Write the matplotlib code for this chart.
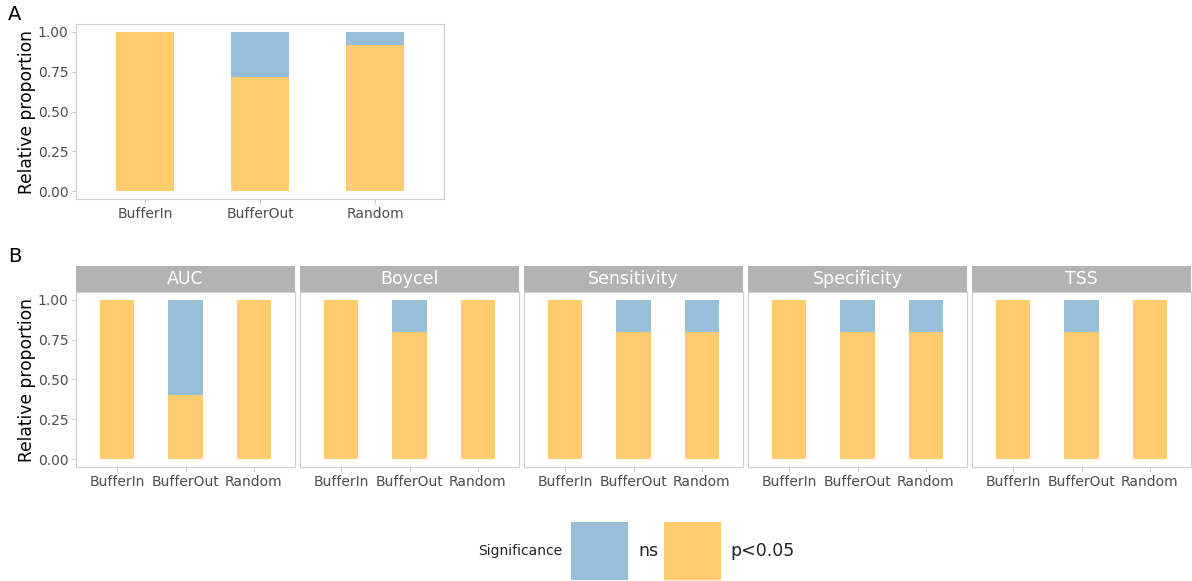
import matplotlib
matplotlib.use("Agg")
import matplotlib.pyplot as plt
from matplotlib.patches import Rectangle

plt.rcParams["font.family"] = ["DejaVu Sans"]

# proportion of significant (p<0.05) results; the rest is "ns"
groups = ["BufferIn", "BufferOut", "Random"]
overall_sig = [1.00, 0.72, 0.92]

metrics = ["AUC", "Boycel", "Sensitivity", "Specificity", "TSS"]
metric_sig = {
    "AUC":         [1.0, 0.4, 1.0],
    "Boycel":      [1.0, 0.8, 1.0],
    "Sensitivity": [1.0, 0.8, 0.8],
    "Specificity": [1.0, 0.8, 0.8],
    "TSS":         [1.0, 0.8, 1.0],
}

C_NS = "#97bfd7"
C_SIG = "#fecb6e"
GRID_TXT = "#4d4d4d"

W, H = 1192, 581
fig = plt.figure(figsize=(W / 100, H / 100), dpi=100)


def px_axes(x0, y0, x1, y1):
    return fig.add_axes([x0 / W, 1 - y1 / H, (x1 - x0) / W, (y1 - y0) / H])


def stacked(ax, sig, show_y=True):
    x = list(range(1, len(groups) + 1))
    ns = [1 - s for s in sig]
    ax.bar(x, sig, width=0.5, color=C_SIG, linewidth=0)
    ax.bar(x, ns, width=0.5, bottom=sig, color=C_NS, linewidth=0)
    ax.set_xlim(0.4, 3.6)
    ax.set_ylim(-0.05, 1.05)
    ax.set_xticks(x)
    ax.set_xticklabels(groups)
    ax.set_yticks([0, 0.25, 0.5, 0.75, 1.0])
    if show_y:
        ax.set_yticklabels(["0.00", "0.25", "0.50", "0.75", "1.00"])
        ax.set_ylabel("Relative proportion", fontsize=12.3, color="black",
                      labelpad=1)
    else:
        ax.tick_params(axis="y", left=False, labelleft=False)
    ax.tick_params(axis="both", colors="#bdbdbd", labelcolor=GRID_TXT,
                   labelsize=10, length=3, width=0.6, pad=2.5)
    for s in ax.spines.values():
        s.set_color("#d0d0d0")
        s.set_linewidth(0.8)


# panel A
axA = px_axes(76, 24, 444, 199)
stacked(axA, overall_sig)
fig.text(8 / W, 1 - 15 / H, "A", fontsize=14, va="center", ha="left")

# panel B: one facet per metric
fig.text(8 / W, 1 - 257 / H, "B", fontsize=14, va="center", ha="left")
lefts = [76, 300, 524, 748, 972]
for i, (m, x0) in enumerate(zip(metrics, lefts)):
    ax = px_axes(x0, 292, x0 + 219, 467)
    stacked(ax, metric_sig[m], show_y=(i == 0))
    strip = px_axes(x0, 266, x0 + 219, 292)
    strip.set_xticks([])
    strip.set_yticks([])
    strip.set_facecolor("#b3b3b3")
    for s in strip.spines.values():
        s.set_visible(False)
    strip.text(0.5, 0.5, m, color="white", fontsize=12.5,
               ha="center", va="center", transform=strip.transAxes)

# legend
leg = px_axes(0, 515, W, 581)
leg.set_xlim(0, W)
leg.set_ylim(581, 515)
leg.axis("off")
leg.text(562, 551, "Significance", fontsize=10, ha="right", va="center",
         color="#222222")
leg.add_patch(Rectangle((571, 522), 57, 58, color=C_NS, lw=0))
leg.text(638, 551, "ns", fontsize=12.5, ha="left", va="center", color="#222222")
leg.add_patch(Rectangle((664, 522), 57, 58, color=C_SIG, lw=0))
leg.text(730, 551, "p<0.05", fontsize=12.5, ha="left", va="center",
         color="#222222")

fig.savefig("out.png", dpi=100)
